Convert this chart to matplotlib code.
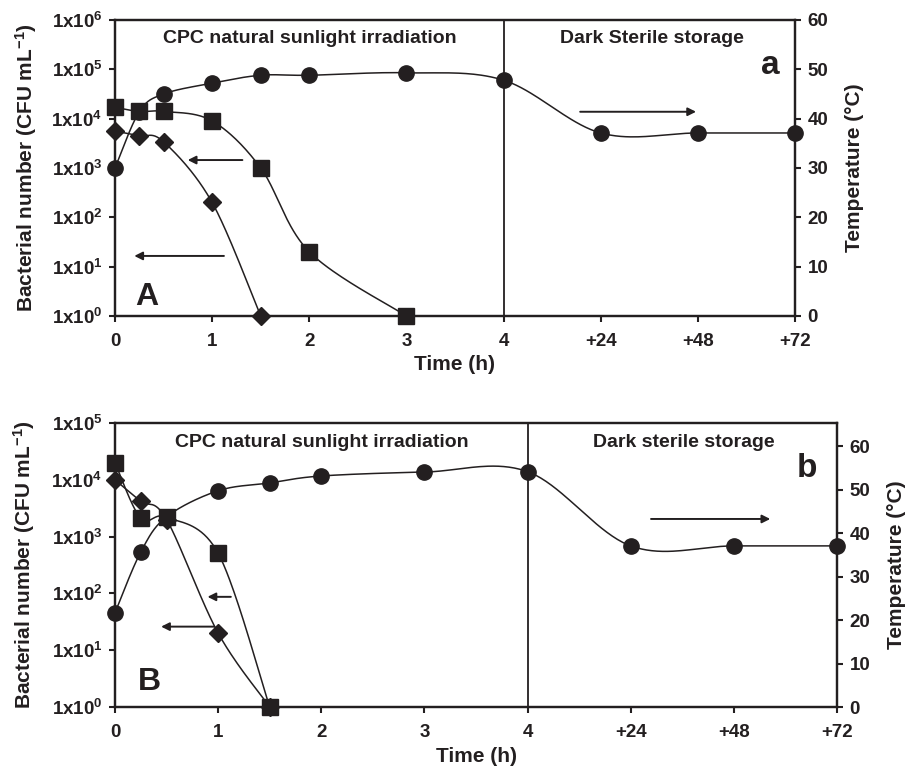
import matplotlib
matplotlib.use('Agg')
import matplotlib.pyplot as plt
import numpy as np

# ----------------------------------- дані -----------------------------------
tick_pos = [0, 1, 2, 3, 4, 5, 6, 7]
tick_labels = ['0', '1', '2', '3', '4', '+24', '+48', '+72']

# панель A / a
temp_a_x = [0, 0.25, 0.5, 1, 1.5, 2, 3, 4, 5, 6, 7]
temp_a = [30, 41.4, 45, 47.2, 48.8, 48.8, 49.3, 47.8, 37.1, 37.1, 37.1]
sq_a_x = [0, 0.25, 0.5, 1, 1.5, 2, 3]
sq_a = [17000, 14000, 14000, 9000, 1000, 20, 1]
dia_a_x = [0, 0.25, 0.5, 1, 1.5]
dia_a = [5600, 4500, 3400, 200, 1]

# панель B / b
temp_b_x = [0, 0.25, 0.5, 1, 1.5, 2, 3, 4, 5, 6, 7]
temp_b = [21.7, 35.7, 43.8, 49.8, 51.6, 53.2, 54.1, 54.2, 37.1, 37.1, 37.1]
sq_b_x = [0, 0.25, 0.5, 1, 1.5]
sq_b = [20000, 2100, 2200, 510, 1]
dia_b_x = [0, 0.25, 0.5, 1, 1.5]
dia_b = [10000, 4200, 2000, 20, 1]

INK = '#231f20'

plt.rcParams['font.family'] = ['Liberation Sans', 'DejaVu Sans']
plt.rcParams['font.weight'] = 'bold'
plt.rcParams['axes.labelweight'] = 'bold'
plt.rcParams['mathtext.fontset'] = 'custom'
plt.rcParams['mathtext.rm'] = 'Liberation Sans:bold'
plt.rcParams['mathtext.it'] = 'Liberation Sans:bold'
plt.rcParams['mathtext.bf'] = 'Liberation Sans:bold'
plt.rcParams['mathtext.default'] = 'rm'


# ----- згладжена лінія як у Excel (Безьє через точки) -----
def smooth(xs, ys, sx, sy, n=40):
    P = np.column_stack([np.asarray(xs, float) * sx, np.asarray(ys, float) * sy])
    P = np.vstack([P[0], P, P[-1]])
    t = np.linspace(0, 1, n)[:, None]
    out = []
    for i in range(1, len(P) - 2):
        p0, p1, p2, p3 = P[i - 1], P[i], P[i + 1], P[i + 2]
        b1 = p1 + (p2 - p0) / 6
        b2 = p2 - (p3 - p1) / 6
        out.append((1 - t) ** 3 * p1 + 3 * (1 - t) ** 2 * t * b1 + 3 * (1 - t) * t ** 2 * b2 + t ** 3 * p2)
    c = np.vstack(out)
    return c[:, 0] / sx, c[:, 1] / sy


def panel(rect, temp_x, temp, sq_x, sq, dia_x, dia, tmax, ldec, texts, arrows_l, arrow_r, coords):
    ax = fig.add_axes(rect)          # температура (права вісь)
    ax2 = ax.twinx()                 # бактерії (ліва, логарифмічна)
    ax.yaxis.tick_right()
    ax.yaxis.set_label_position('right')
    ax2.yaxis.tick_left()
    ax2.yaxis.set_label_position('left')

    wpx = rect[2] * 906
    hpx = rect[3] * 770
    sx = wpx / 7

    ax.set_xlim(0, 7)
    ax.set_ylim(0, tmax)
    ax2.set_ylim(1, 10 ** ldec)
    ax2.set_yscale('log')

    # температура
    cx, cy = smooth(temp_x, temp, sx, hpx / tmax)
    ax.plot(cx, cy, color=INK, lw=1.1, clip_on=False)
    ax.plot(temp_x, temp, 'o', color=INK, ms=11, clip_on=False)

    # бактерії
    for xs, ys, mk, ms in [(sq_x, sq, 's', 11), (dia_x, dia, 'D', 9.5)]:
        cx, cy = smooth(xs, np.log10(ys), sx, hpx / ldec)
        ax2.plot(cx, 10 ** cy, color=INK, lw=1.1, clip_on=False)
        ax2.plot(xs, ys, mk, color=INK, ms=ms, clip_on=False)

    ax.axvline(4, color=INK, lw=1.3)

    ax.set_xticks(tick_pos)
    ax.set_xticklabels(tick_labels)
    ax.set_yticks(range(0, 61, 10))
    ax2.set_yticks([10 ** k for k in range(ldec + 1)])
    ax2.set_yticklabels(['1x10$^{%d}$' % k for k in range(ldec + 1)])
    ax2.yaxis.set_minor_locator(matplotlib.ticker.NullLocator())

    for a in (ax, ax2):
        for s in a.spines.values():
            s.set_linewidth(1.6)
            s.set_color(INK)
        a.tick_params(direction='out', length=4, width=1.5, colors=INK, labelsize=13.5)
    ax.tick_params(axis='x', pad=8)
    ax.tick_params(axis='y', pad=5)
    ax2.tick_params(axis='y', pad=5)

    ax.set_xlabel('Time (h)', fontsize=15, color=INK)
    ax.xaxis.set_label_coords(0.5, coords[0])
    ax2.set_ylabel('Bacterial number (CFU mL$^{-1}$)', fontsize=15, color=INK)
    ax2.yaxis.set_label_coords(coords[1], 0.5)
    ax.set_ylabel('Temperature (°C)', fontsize=15, color=INK)
    ax.yaxis.set_label_coords(coords[2], 0.5)

    for tx, x, y, fs in texts:
        ax.text(x, y, tx, transform=ax.transAxes, ha='center', va='center', fontsize=fs, color=INK)

    for x0, x1, y in arrows_l:
        ax2.annotate('', xy=(x1, y), xytext=(x0, y),
                     arrowprops=dict(arrowstyle='-|>', color=INK, lw=1.4, mutation_scale=12))
    x0, x1, y = arrow_r
    ax.annotate('', xy=(x1, y), xytext=(x0, y),
                arrowprops=dict(arrowstyle='-|>', color=INK, lw=1.4, mutation_scale=12))


fig = plt.figure(figsize=(9.06, 7.70), dpi=100)

panel([115 / 906, 1 - 316 / 770, 680 / 906, 296 / 770],
      temp_a_x, temp_a, sq_a_x, sq_a, dia_a_x, dia_a, 60, 6,
      [('CPC natural sunlight irradiation', 0.287, 0.939, 14),
       ('Dark Sterile storage', 0.79, 0.939, 14),
       ('a', 0.963, 0.845, 24),
       ('A', 0.047, 0.063, 23)],
      [(1.34, 0.72, 1450), (1.15, 0.17, 16.5)],
      (4.76, 6.01, 41.4),
      (-0.132, -0.112, 1.074))

panel([115 / 906, 1 - 707 / 770, 722 / 906, 284 / 770],
      temp_b_x, temp_b, sq_b_x, sq_b, dia_b_x, dia_b, 65.4, 5,
      [('CPC natural sunlight irradiation', 0.287, 0.93, 14),
       ('Dark sterile storage', 0.788, 0.93, 14),
       ('b', 0.958, 0.84, 24),
       ('B', 0.048, 0.087, 23)],
      [(1.15, 0.87, 87), (0.99, 0.42, 26)],
      (5.17, 6.38, 43.3),
      (-0.142, -0.108, 1.069))

fig.savefig('out.png', dpi=100)
